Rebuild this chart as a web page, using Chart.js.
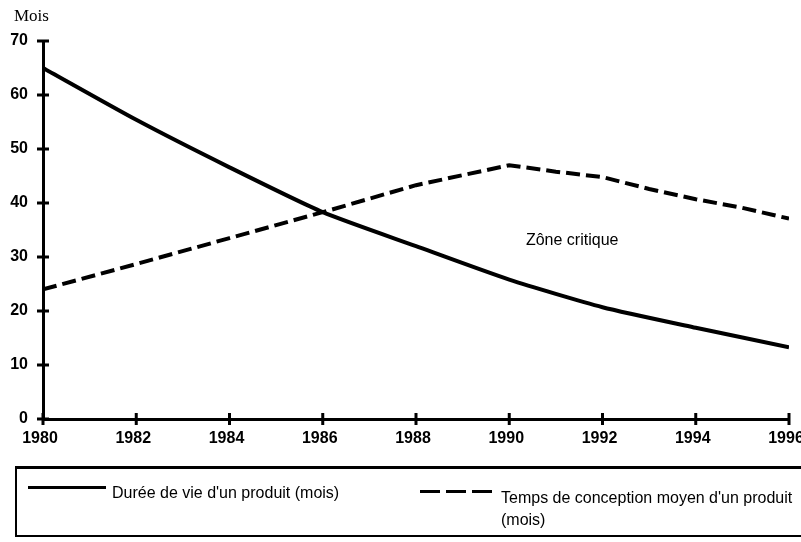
<!DOCTYPE html>
<html>
<head>
<meta charset="utf-8">
<script src="https://cdn.jsdelivr.net/npm/chart.js@4"></script>
<style>
    body { margin: 0; background: #fff; }
    #wrap { position: relative; width: 801px; height: 542px; overflow: hidden; }
    #chart { position: absolute; left: 0; top: 0; }
    .txt { position: absolute; font-family: 'Liberation Sans', Arial, sans-serif; font-size: 16px; color: #000; white-space: nowrap; }
    #mois { position: absolute; left: 14px; top: 6px; font-family: 'Liberation Serif', 'Times New Roman', serif; font-size: 17px; }
    #legendBox { position: absolute; left: 15px; top: 466px; width: 800px; height: 71px; border-top: 3px solid #000; border-left: 2px solid #000; border-bottom: 2px solid #000; box-sizing: border-box; }
    .sample { position: absolute; height: 3px; width: 78px; }
</style>
</head>
<body>
<div id="wrap">
    <canvas id="chart" width="801" height="542"></canvas>
    <div id="mois">Mois</div>
    <div id="legendBox"></div>
    <div class="sample" style="left: 28px; top: 486px; background: #000;"></div>
    <div class="txt" style="left: 112px; top: 484px;">Durée de vie d'un produit (mois)</div>
    <div class="sample" style="left: 420px; top: 490px; background: repeating-linear-gradient(to right, #000 0 20px, transparent 20px 26px);"></div>
    <div class="txt" style="left: 501px; top: 489px;">Temps de conception moyen d'un produit</div>
    <div class="txt" style="left: 501px; top: 511px;">(mois)</div>
</div>
<script>
// Data
const dureeYears = [1980, 1982, 1984, 1986, 1988, 1990, 1992, 1994, 1996];
const dureeValues = [65, 55.4, 46.6, 38.3, 32, 25.8, 20.7, 16.9, 13.3];

const conceptionYears = [1980, 1982, 1984, 1986, 1988, 1990, 1991, 1992, 1993, 1994, 1995, 1996];
const conceptionValues = [24, 28.7, 33.5, 38.3, 43.3, 47, 45.8, 44.8, 42.6, 40.7, 39.1, 37.1];

const xTicks = [1980, 1982, 1984, 1986, 1988, 1990, 1992, 1994, 1996];
const yTicks = [0, 10, 20, 30, 40, 50, 60, 70];

const zoneLabel = 'Zône critique';
const zoneAt = { x: 1991.35, y: 33.0 };

const toPoints = (xs, ys) => xs.map((x, i) => ({ x: x, y: ys[i] }));

// Tick marks crossing the axes + the "Zône critique" note
const axisDecor = {
    id: 'axisDecor',
    afterDraw(chart) {
        const ctx = chart.ctx;
        const area = chart.chartArea;
        const xs = chart.scales.x;
        const ys = chart.scales.y;
        ctx.save();
        ctx.strokeStyle = '#000';
        ctx.lineWidth = 3;
        xs.ticks.forEach(t => {
            const px = xs.getPixelForValue(t.value);
            ctx.beginPath();
            ctx.moveTo(px, area.bottom - 6);
            ctx.lineTo(px, area.bottom + 6);
            ctx.stroke();
        });
        ys.ticks.forEach(t => {
            const py = ys.getPixelForValue(t.value);
            ctx.beginPath();
            ctx.moveTo(area.left - 6, py);
            ctx.lineTo(area.left + 6, py);
            ctx.stroke();
        });
        ctx.fillStyle = '#000';
        ctx.font = '16px "Liberation Sans", Arial, sans-serif';
        ctx.textAlign = 'center';
        ctx.textBaseline = 'middle';
        ctx.fillText(zoneLabel, xs.getPixelForValue(zoneAt.x), ys.getPixelForValue(zoneAt.y));
        ctx.restore();
    }
};

new Chart(document.getElementById('chart'), {
    type: 'line',
    data: {
        datasets: [{
            label: "Durée de vie d'un produit (mois)",
            data: toPoints(dureeYears, dureeValues),
            borderColor: '#000',
            borderWidth: 4,
            pointRadius: 0,
            tension: 0.2,
            fill: false
        }, {
            label: "Temps de conception moyen d'un produit (mois)",
            data: toPoints(conceptionYears, conceptionValues),
            borderColor: '#000',
            borderWidth: 4,
            borderDash: [14, 6],
            pointRadius: 0,
            tension: 0,
            fill: false
        }]
    },
    options: {
        responsive: false,
        animation: false,
        layout: {
            padding: { top: 41, right: 12, left: 0, bottom: 0 }
        },
        plugins: {
            legend: { display: false },
            tooltip: { enabled: false }
        },
        scales: {
            x: {
                type: 'linear',
                min: 1980,
                max: 1996,
                afterBuildTicks: scale => {
                    scale.ticks = xTicks.map(v => ({ value: v }));
                },
                afterFit: scale => {
                    scale.height = 123;
                    scale.paddingLeft = 0;
                    scale.paddingRight = 0;
                },
                grid: { display: false },
                border: { display: true, color: '#000', width: 3 },
                ticks: {
                    color: '#000',
                    padding: 2,
                    labelOffset: -3,
                    maxRotation: 0,
                    autoSkip: false,
                    font: { family: '"Liberation Sans", Arial, sans-serif', size: 16, weight: 'bold' },
                    callback: v => String(v)
                }
            },
            y: {
                min: 0,
                max: 70,
                afterBuildTicks: scale => {
                    scale.ticks = yTicks.map(v => ({ value: v }));
                },
                afterFit: scale => {
                    scale.width = 43;
                },
                grid: { display: false },
                border: { display: true, color: '#000', width: 3 },
                ticks: {
                    color: '#000',
                    padding: 7,
                    font: { family: '"Liberation Sans", Arial, sans-serif', size: 16, weight: 'bold' }
                }
            }
        }
    },
    plugins: [axisDecor]
});
</script>
</body>
</html>
